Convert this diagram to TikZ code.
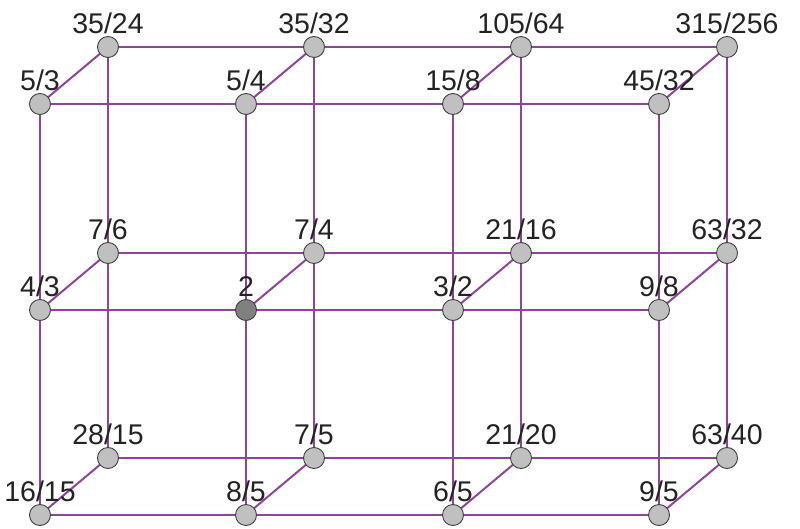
\documentclass[tikz,border=0pt]{standalone}
\usepackage{fontspec}
\setmainfont{Liberation Sans}
\definecolor{edgecol}{RGB}{140,70,150}
\definecolor{nodefill}{RGB}{192,192,192}
\definecolor{darkfill}{RGB}{128,128,128}
\definecolor{txtcol}{RGB}{35,35,35}
\begin{document}
\begin{tikzpicture}[x=1pt,y=-1pt,
  vtx/.style={circle, draw=black!75, fill=nodefill, line width=0.9pt, minimum size=21pt, inner sep=0pt},
  dvtx/.style={vtx, fill=darkfill},
  edge/.style={draw=edgecol, line width=2pt},
  lbl/.style={anchor=base, inner sep=0pt, text=txtcol, font=\fontsize{28.5}{34}\selectfont}]
\useasboundingbox (0,0) rectangle (800,529);
% front and back layer positions
\foreach \i/\xx in {0/40,1/246,2/453,3/659}{
  \foreach \j/\yy in {0/104,1/310,2/515}{
    \coordinate (pf\i\j) at (\xx,\yy);
    \coordinate (pb\i\j) at (\xx+68,\yy-57);
  }
}
% edges
\foreach \j in {0,1,2}{
  \draw[edge] (pf0\j) -- (pf3\j);
  \draw[edge] (pb0\j) -- (pb3\j);
}
\foreach \i in {0,1,2,3}{
  \draw[edge] (pf\i0) -- (pf\i2);
  \draw[edge] (pb\i0) -- (pb\i2);
  \foreach \j in {0,1,2}{
    \draw[edge] (pf\i\j) -- (pb\i\j);
  }
}
% nodes
\foreach \i in {0,1,2,3}{
  \foreach \j in {0,1,2}{
    \node[vtx] (b\i\j) at (pb\i\j) {};
  }
}
\foreach \i in {0,1,2,3}{
  \foreach \j in {0,1,2}{
    \ifnum\i\j=11
      \node[dvtx] (f\i\j) at (pf\i\j) {};
    \else
      \node[vtx] (f\i\j) at (pf\i\j) {};
    \fi
  }
}
% labels
\foreach \n/\t in {f00/5\slash 3,f10/5\slash 4,f20/15\slash 8,f30/45\slash 32,
                   b00/35\slash 24,b10/35\slash 32,b20/105\slash 64,b30/315\slash 256,
                   f01/4\slash 3,f11/2,f21/3\slash 2,f31/9\slash 8,
                   b01/7\slash 6,b11/7\slash 4,b21/21\slash 16,b31/63\slash 32,
                   f02/16\slash 15,f12/8\slash 5,f22/6\slash 5,f32/9\slash 5,
                   b02/28\slash 15,b12/7\slash 5,b22/21\slash 20,b32/63\slash 40}{
  \node[lbl] (l\n) at ([yshift=13.5pt]\n.center) {\t};
}
\end{tikzpicture}
\end{document}
